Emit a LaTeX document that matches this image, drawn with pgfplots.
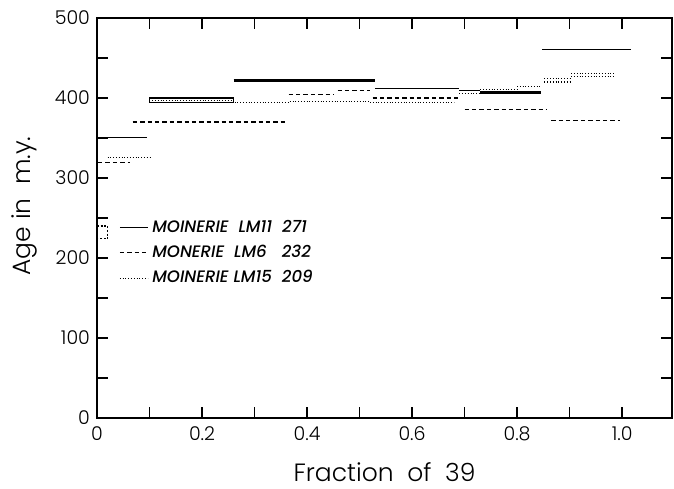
\documentclass[border=0pt]{standalone}
\usepackage{fontspec}
\setmainfont{Poppins}[UprightFont=* Light, ItalicFont=* Medium Italic]
\usepackage{pgfplots}
\pgfplotsset{compat=1.18}

% age spectra, one table per sample; nan rows break the steps
\pgfplotstableread{
x y
0.000 351
0.095 351
nan nan
0.530 412
0.690 412
nan nan
0.690 409
0.730 409
nan nan
0.848 461
1.017 461
}\lmeleven
\pgfplotstableread{
x y
0.260 422
0.530 422
nan nan
0.730 407
0.846 407
}\lmeleventhick
\pgfplotstableread{
x y
0.100 394
0.260 394
0.260 400
0.100 400
0.100 394
}\lmelevenbox
\pgfplotstableread{
x y
0.002 319
0.062 319
nan nan
0.068 370
0.361 370
nan nan
0.365 404
0.452 404
nan nan
0.458 409
0.520 409
nan nan
0.525 400
0.690 400
nan nan
0.700 386
0.857 386
nan nan
0.865 372
0.996 372
}\lmsix
\pgfplotstableread{
x y
0.000 240
0.020 240
0.020 224
0.000 224
}\lmsixbox
\pgfplotstableread{
x y
0.020 326
0.103 326
nan nan
0.105 397
0.255 397
nan nan
0.262 394
0.367 394
nan nan
0.367 396
0.520 396
nan nan
0.520 394
0.680 394
nan nan
0.690 406
0.730 406
nan nan
0.730 411
0.800 411
nan nan
0.800 414
0.846 414
nan nan
0.852 424
0.903 424
nan nan
0.852 420
0.903 420
nan nan
0.903 431
0.985 431
nan nan
0.903 427
0.985 427
}\lmfifteen

\begin{document}
\begin{tikzpicture}
\begin{axis}[
    scale only axis,
    width=287.5pt, height=200pt,
    xmin=0, xmax=1.095, ymin=0, ymax=500,
    unbounded coords=jump,
    axis line style={line width=0.9pt},
    xtick={0,0.2,0.4,0.6,0.8,1.0},
    xticklabels={0,0.2,0.4,0.6,0.8,1.0},
    minor xtick={0.1,0.3,0.5,0.7,0.9},
    ytick={0,100,200,300,400,500},
    minor ytick={50,150,250,350,450},
    tick align=inside,
    major tick length=5.5pt, minor tick length=5.5pt,
    tick style={black, line width=0.8pt},
    /pgf/number format/assume math mode=true,
    tick label style={font=\fontsize{9.5}{11}\selectfont},
    xticklabel style={yshift=-1pt},
    xlabel={Fraction\ \ of\ \ 39},
    ylabel={Age in\ \ m.y.},
    label style={font=\fontsize{12.5}{14}\selectfont},
    xlabel style={yshift=-4pt},
    ylabel style={at={(ticklabel cs:0.53)}, yshift=2pt},
    legend style={draw=none, fill=none, at={(axis cs:0.03,258)}, anchor=north west,
      font=\fontsize{8.3}{9}\selectfont\itshape, row sep=1pt,
      legend cell align=left},
    legend image code/.code={\draw[#1] (0pt,0pt) -- (14pt,0pt);},
]
\addplot[black, line width=0.6pt] table {\lmeleven};
\addlegendentry{MOINERIE\ \ LM11\ \ 271}
\addplot[black, line width=0.6pt, dash pattern=on 2.2pt off 1.5pt] table {\lmsix};
\addlegendentry{MONERIE\ \ LM6\ \ \ 232}
\addplot[black, line width=0.6pt, dash pattern=on 0.5pt off 0.9pt] table {\lmfifteen};
\addlegendentry{MOINERIE LM15\ \ 209}
\addplot[black, line width=1.7pt, forget plot] table {\lmeleventhick};
\addplot[black, line width=0.6pt, forget plot] table {\lmelevenbox};
\addplot[black, line width=0.6pt, dash pattern=on 1pt off 0.8pt, forget plot] table {\lmsixbox};
\end{axis}
\path (-48.5pt,-32pt) rectangle (288.5pt,209pt);
\end{tikzpicture}
\end{document}
